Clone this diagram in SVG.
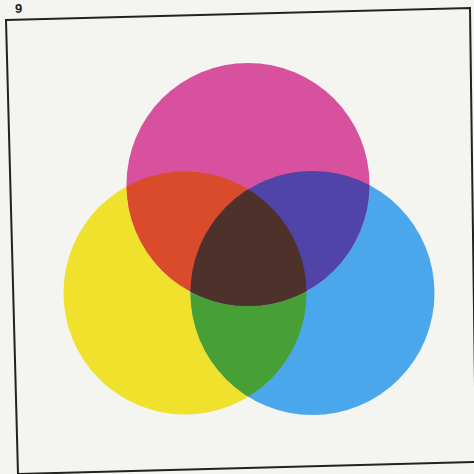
<svg xmlns="http://www.w3.org/2000/svg" width="474" height="474" viewBox="0 0 474 474">
<style>
.frame{fill:none;stroke:#222;stroke-width:2}
.lbl{font-family:"Liberation Sans",Arial,sans-serif;font-weight:bold;font-size:13px;fill:#222}
</style>
<defs>
<clipPath id="cY"><circle cx="185" cy="293" r="121.5"/></clipPath>
<clipPath id="cC"><circle cx="312.5" cy="293" r="122"/></clipPath>
</defs>
<rect width="474" height="474" fill="#f4f4f1"/>
<text class="lbl" x="15" y="13">9</text>
<polygon class="frame" points="6,20 470,8 476,462 18,474"/>
<g id="yellow"><circle cx="185" cy="293" r="121.5" fill="#f0e22c"/></g>
<g id="cyan"><circle cx="312.5" cy="293" r="122" fill="#4ba7ec"/></g>
<g id="magenta"><circle cx="248" cy="184.5" r="121.5" fill="#d8519f"/></g>
<g id="green" clip-path="url(#cY)"><circle cx="312.5" cy="293" r="122" fill="#46a036"/></g>
<g id="red" clip-path="url(#cY)"><circle cx="248" cy="184.5" r="121.5" fill="#d94b2b"/></g>
<g id="violet" clip-path="url(#cC)"><circle cx="248" cy="184.5" r="121.5" fill="#5144a8"/></g>
<g id="center" clip-path="url(#cY)"><g clip-path="url(#cC)"><circle cx="248" cy="184.5" r="121.5" fill="#4f312b"/></g></g>
</svg>
